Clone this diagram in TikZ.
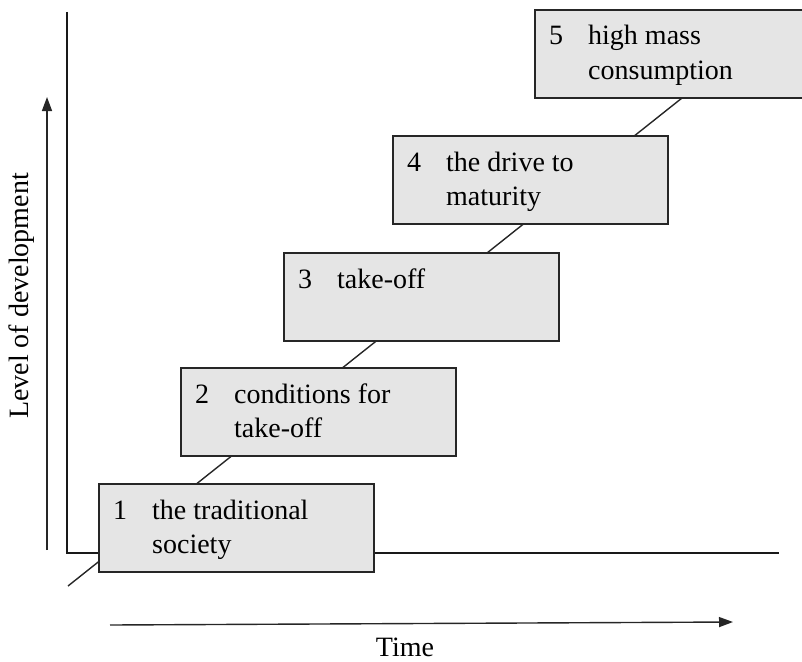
\documentclass[tikz,border=0pt]{standalone}
\usepackage{fontspec}
\setmainfont{Liberation Serif}
\usetikzlibrary{arrows.meta}

\tikzset{
  stage/.style={draw=black!85, line width=1.8pt, fill=black!10,
    minimum width=275pt, minimum height=88pt, anchor=north west,
    inner sep=0pt},
  axis/.style={line width=2.6pt, black!90},
  guide/.style={line width=1.4pt, black!85},
  dirarrow/.style={line width=1.4pt, black!85,
    -{Triangle[length=14pt,width=10pt]}},
  stagetext/.style={font=\fontsize{28}{34}\selectfont, inner sep=0pt}
}

% stage box: name, top-left corner, number, first line, second line
\newcommand{\stagebox}[5]{%
  \node[stage] (#1) at (#2) {};
  \node[stagetext, anchor=base west] (#1n) at ([xshift=15pt,yshift=-36pt]#1.north west) {#3};
  \node[stagetext, anchor=base west] (#1a) at ([xshift=54pt,yshift=-36pt]#1.north west) {#4};
  \node[stagetext, anchor=base west] (#1b) at ([xshift=54pt,yshift=-70pt]#1.north west) {#5};
}

\begin{document}
\begin{tikzpicture}[x=1pt,y=-1pt]
  \useasboundingbox (0,0) rectangle (802,661);

  % axes
  \coordinate (ytop) at (67,12);
  \coordinate (origin) at (67,553);
  \coordinate (xend) at (779,553);
  \draw[axis, line join=miter] (ytop) -- (origin) -- (xend);

  % rising guide line behind the stages
  \coordinate (gstart) at (68,586);
  \coordinate (gend) at (682,98);
  \draw[guide] (gstart) -- (gend);

  % stages
  \stagebox{s1}{98,483}{1}{the traditional}{society}
  \stagebox{s2}{180,367}{2}{conditions for}{take-off}
  \stagebox{s3}{283,252}{3}{take-off}{}
  \stagebox{s4}{392,135}{4}{the drive to}{maturity}
  \stagebox{s5}{534,9}{5}{high mass}{consumption}

  % direction arrows and their labels
  \coordinate (vbot) at (47,550);
  \coordinate (vtop) at (47,97);
  \draw[dirarrow] (vbot) -- (vtop);
  \node[stagetext, rotate=90] (ylab) at (22,296) {Level of development};

  \coordinate (hleft) at (110,625);
  \coordinate (hright) at (733,622);
  \draw[dirarrow] (hleft) -- (hright);
  \node[stagetext, anchor=base] (xlab) at (405,656) {Time};
\end{tikzpicture}
\end{document}
